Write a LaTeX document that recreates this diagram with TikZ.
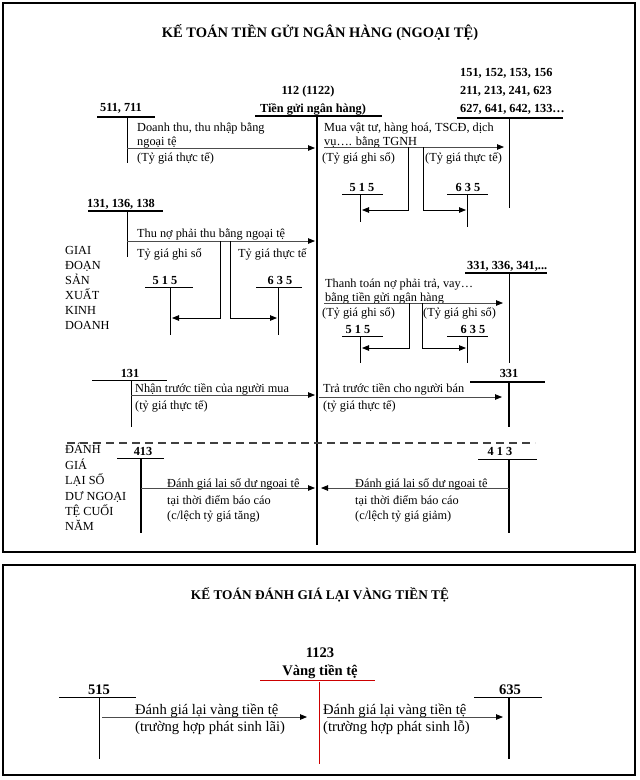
\documentclass[tikz,border=0pt]{standalone}
\usepackage{fontspec}
\setmainfont{Liberation Serif}
\usetikzlibrary{arrows.meta}

\tikzset{
    frame/.style={line width=2.5pt},
    head/.style={font=\bfseries\fontsize{14.5}{16}\selectfont, inner sep=0, anchor=base},
    headsmall/.style={font=\bfseries\fontsize{13.3}{15}\selectfont, inner sep=0, anchor=base},
    acc/.style={font=\bfseries\fontsize{12.3}{14}\selectfont, inner sep=0, anchor=base},
    accbig/.style={font=\bfseries\fontsize{14.6}{16}\selectfont, inner sep=0, anchor=base},
    txt/.style={font=\fontsize{12.3}{14}\selectfont, inner sep=0, anchor=base west},
    txtbig/.style={font=\fontsize{14.6}{16}\selectfont, inner sep=0, anchor=base west},
    bar/.style={line width=1.8pt},
    leg/.style={line width=0.7pt},
    heavy/.style={line width=1.8pt},
    flow/.style={draw=black!70, line width=0.8pt, -{Triangle[length=7pt,width=5.5pt,color=black]}},
    gold/.style={draw=red!80!black, line width=0.7pt},
}

\begin{document}
\begin{tikzpicture}[x=1pt, y=-1pt]
    \useasboundingbox (0,0) rectangle (640,780);

    % Frames
    \draw[frame] (3,3) rectangle (635,552);
    \draw[frame] (3,565) rectangle (635,775);

    % Titles
    \node at (320,37) (title1) [head] {KẾ TOÁN TIỀN GỬI NGÂN HÀNG (NGOẠI TỆ)};
    \node at (320,599) (title2) [headsmall] {KẾ TOÁN ĐÁNH GIÁ LẠI VÀNG TIỀN TỆ};

    % Account 112 (centre)
    \node at (308,94) (tk112) [acc] {112 (1122)};
    \node at (313,112) (tk112name) [acc] {Tiền gửi ngân hàng)};
    \draw[bar] (255,116) -- (382,116);
    \draw[heavy] (317,116) coordinate (c112top) -- (317,545) coordinate (c112bot);

    % Side labels
    \foreach \w [count=\i] in {GIAI,ĐOẠN,SẢN,XUẤT,KINH,DOANH}
        \node at (65,{239+15*\i}) (stage\i) [txt] {\w};
    \foreach \w [count=\i] in {ĐÁNH,GIÁ,LẠI SỐ,DƯ NGOẠI,TỆ CUỐI,NĂM}
        \node at (65,{438.5+15.4*\i}) (eval\i) [txt] {\w};

    % Row 1: 511, 711 -> 112 -> 151, 152 ...
    \node at (121,111) (tk511) [acc] {511, 711};
    \draw[bar] (97,117) -- (155,117);
    \draw[leg] (127,117) -- (127,163);
    \coordinate (a1s) at (127,148);
    \coordinate (a1e) at (315,148);
    \node at (137,131) (t1a) [txt] {Doanh thu, thu nhập bằng};
    \node at (137,145) (t1b) [txt] {ngoại tệ};
    \node at (137,161) (t1c) [txt] {(Tỷ giá thực tế)};

    \node at (460,76) (tk151) [acc, anchor=base west] {151, 152, 153, 156};
    \node at (460,94) (tk211) [acc, anchor=base west] {211, 213, 241, 623};
    \node at (460,112) (tk627) [acc, anchor=base west] {627, 641, 642, 133…};
    \draw[bar] (457,118) -- (563,118);
    \draw[leg] (509,118) -- (509,208);
    \coordinate (a2s) at (324,147);
    \coordinate (a2e) at (504,147);
    \node at (324,131) (t2a) [txt] {Mua vật tư, hàng hoá, TSCĐ, dịch};
    \node at (324,145) (t2b) [txt] {vụ…. bằng TGNH};
    \node at (322,161) (t2c) [txt] {(Tỷ giá ghi sổ)};
    \node at (425,161) (t2d) [txt] {(Tỷ giá thực tế)};

    \node at (362,191) (tk515a) [acc] {5 1 5};
    \draw[leg] (342,194) -- (383,194);
    \draw[leg] (360,194) -- (360,222);
    \node at (468,191) (tk635a) [acc] {6 3 5};
    \draw[leg] (447,194) -- (488,194);
    \draw[leg] (467,194) -- (467,227);
    \coordinate (s1l) at (408,147);
    \coordinate (s1lb) at (408,210);
    \coordinate (e1l) at (362,210);
    \coordinate (s1r) at (423,147);
    \coordinate (s1rb) at (423,210);
    \coordinate (e1r) at (466,210);

    % Row 2: 131, 136, 138 -> 112
    \node at (121,207) (tk131a) [acc] {131, 136, 138};
    \draw[bar] (88,211) -- (163,211);
    \draw[leg] (127,211) -- (127,257);
    \coordinate (a3s) at (127,241);
    \coordinate (a3e) at (315,241);
    \node at (137,237) (t3a) [txt] {Thu nợ phải thu bằng ngoại tệ};
    \node at (137,257) (t3b) [txt] {Tỷ giá ghi sổ};
    \node at (238,257) (t3c) [txt] {Tỷ giá thực tế};

    \node at (165,284) (tk515b) [acc] {5 1 5};
    \draw[leg] (145,287) -- (193,287);
    \draw[leg] (170,287) -- (170,335);
    \node at (280,284) (tk635b) [acc] {6 3 5};
    \draw[leg] (256,287) -- (302,287);
    \draw[leg] (278,287) -- (278,335);
    \coordinate (s2l) at (220,241);
    \coordinate (s2lb) at (220,318);
    \coordinate (e2l) at (172,318);
    \coordinate (s2r) at (230,241);
    \coordinate (s2rb) at (230,318);
    \coordinate (e2r) at (277,318);

    % Row 3: 112 -> 331, 336, 341
    \node at (467,269) (tk331a) [acc, anchor=base west] {331, 336, 341,...};
    \draw[bar] (465,273) -- (547,273);
    \draw[leg] (509,273) -- (509,363);
    \coordinate (a4s) at (324,303);
    \coordinate (a4e) at (503,303);
    \node at (325,287) (t4a) [txt] {Thanh toán nợ phải trả, vay…};
    \node at (325,301) (t4b) [txt] {bằng tiền gửi ngân hàng};
    \node at (322,316) (t4c) [txt] {(Tỷ giá ghi sổ)};
    \node at (423,316) (t4d) [txt] {(Tỷ giá ghi sổ)};

    \node at (358,333) (tk515c) [acc] {5 1 5};
    \draw[leg] (342,336) -- (383,336);
    \draw[leg] (360,336) -- (360,363);
    \node at (473,333) (tk635c) [acc] {6 3 5};
    \draw[leg] (447,336) -- (488,336);
    \draw[leg] (467,336) -- (467,363);
    \coordinate (s3l) at (409,303);
    \coordinate (s3lb) at (409,348);
    \coordinate (e3l) at (362,348);
    \coordinate (s3r) at (422,303);
    \coordinate (s3rb) at (422,348);
    \coordinate (e3r) at (466,348);

    % Row 4: advances
    \node at (130,377) (tk131b) [acc] {131};
    \draw[leg] (92,380) -- (167,380);
    \draw[leg] (131,380) -- (131,427);
    \coordinate (a5s) at (131,395);
    \coordinate (a5e) at (315,395);
    \node at (135,392) (t5a) [txt] {Nhận trước tiền của người mua};
    \node at (135,409) (t5b) [txt] {(tỷ giá thực tế)};

    \node at (509,377) (tk331b) [acc] {331};
    \draw[bar] (470,382) -- (545,382);
    \draw[heavy] (509,382) -- (509,427);
    \coordinate (a6s) at (319,397);
    \coordinate (a6e) at (502,397);
    \node at (323,392) (t6a) [txt] {Trả trước tiền cho người bán};
    \node at (323,409) (t6b) [txt] {(tỷ giá thực tế)};

    % Divider
    \draw[draw=black!75, line width=1.4pt, dash pattern=on 8pt off 5pt] (67,443) -- (535,443);

    % Row 5: revaluation, 413
    \node at (143,455) (tk413a) [acc] {413};
    \draw[leg] (117,458) -- (164,458);
    \draw[heavy] (141,458) -- (141,533);
    \coordinate (a7s) at (141,488);
    \coordinate (a7e) at (315,488);
    \node at (167,487) (t7a) [txt] {Đánh giá lại số dư ngoại tệ};
    \node at (167,504) (t7b) [txt] {tại thời điểm báo cáo};
    \node at (167,519) (t7c) [txt] {(c/lệch tỷ giá tăng)};

    \node at (500,455) (tk413b) [acc] {4 1 3};
    \draw[leg] (478,459) -- (537,459);
    \draw[heavy] (509,459) -- (509,533);
    \coordinate (a8s) at (509,488);
    \coordinate (a8e) at (321,488);
    \node at (355,487) (t8a) [txt] {Đánh giá lại số dư ngoại tệ};
    \node at (355,504) (t8b) [txt] {tại thời điểm báo cáo};
    \node at (355,519) (t8c) [txt] {(c/lệch tỷ giá giảm)};

    % Gold: 1123
    \node at (320,657) (tk1123) [accbig] {1123};
    \node at (320,675) (tk1123name) [accbig] {Vàng tiền tệ};
    \draw[gold] (260,680) -- (375,680);
    \draw[gold] (319,682) -- (319,764);

    \node at (99,694) (tk515d) [accbig] {515};
    \draw[leg] (59,697) -- (136,697);
    \draw[leg] (99,697) -- (99,759);
    \coordinate (a9s) at (102,717);
    \coordinate (a9e) at (307,717);
    \node at (135,714) (t9a) [txtbig] {Đánh giá lại vàng tiền tệ};
    \node at (135,731) (t9b) [txtbig] {(trường hợp phát sinh lãi)};

    \node at (510,694) (tk635d) [accbig] {635};
    \draw[leg] (474,697) -- (542,697);
    \draw[heavy] (509,697) -- (509,759);
    \coordinate (a10s) at (327,717);
    \coordinate (a10e) at (503,717);
    \node at (323,714) (t10a) [txtbig] {Đánh giá lại vàng tiền tệ};
    \node at (323,731) (t10b) [txtbig] {(trường hợp phát sinh lỗ)};

    % Arrows
    \draw[flow] (a1s) -- (a1e);
    \draw[flow] (a2s) -- (a2e);
    \draw[flow, draw=black] (s1l) -- (s1lb) -- (e1l);
    \draw[flow, draw=black] (s1r) -- (s1rb) -- (e1r);
    \draw[flow] (a3s) -- (a3e);
    \draw[flow, draw=black] (s2l) -- (s2lb) -- (e2l);
    \draw[flow, draw=black] (s2r) -- (s2rb) -- (e2r);
    \draw[flow] (a4s) -- (a4e);
    \draw[flow, draw=black] (s3l) -- (s3lb) -- (e3l);
    \draw[flow, draw=black] (s3r) -- (s3rb) -- (e3r);
    \draw[flow] (a5s) -- (a5e);
    \draw[flow] (a6s) -- (a6e);
    \draw[flow] (a7s) -- (a7e);
    \draw[flow] (a8s) -- (a8e);
    \draw[flow] (a9s) -- (a9e);
    \draw[flow] (a10s) -- (a10e);

\end{tikzpicture}
\end{document}
